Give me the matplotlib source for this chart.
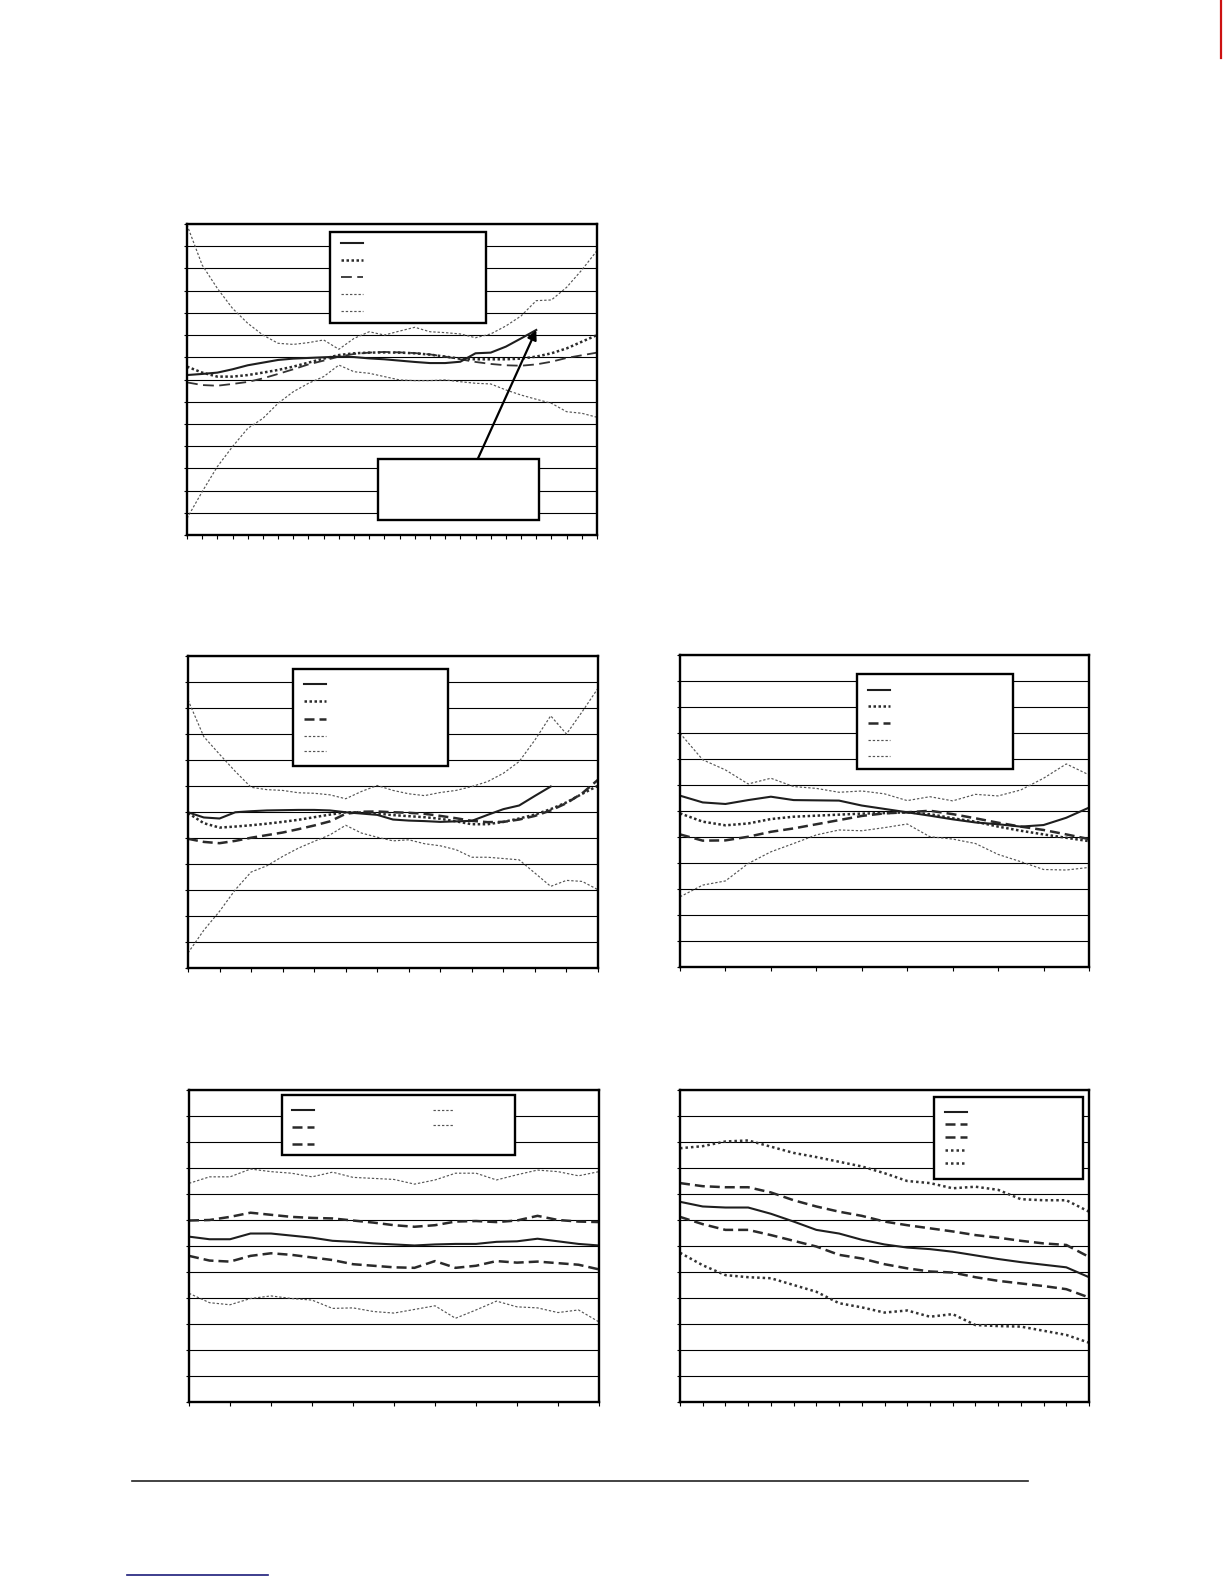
import numpy as np
import matplotlib
matplotlib.use("Agg")
import matplotlib.pyplot as plt
from matplotlib.patches import Rectangle
from matplotlib.lines import Line2D

W, H = 1224, 1584

# ---- chart 1 (28 categories) ----
c1_solid = [0.92, 0.925, 0.931, 0.946, 0.964, 0.976, 0.988, 0.994, 0.997, 1.0,
            1.003, 1.001, 0.995, 0.991, 0.985, 0.979, 0.974, 0.974, 0.98, 1.018,
            1.021, 1.048, 1.085, 1.123]
c1_dot = [0.958, 0.931, 0.913, 0.913, 0.92, 0.931, 0.943, 0.958, 0.976, 0.994,
          1.01, 1.018, 1.021, 1.022, 1.021, 1.018, 1.012, 1.003, 0.994, 0.991,
          0.991, 0.991, 0.994, 1.003, 1.018, 1.04, 1.07, 1.10]
c1_dash = [0.887, 0.875, 0.872, 0.88, 0.889, 0.905, 0.925, 0.946, 0.968, 0.985,
           1.003, 1.015, 1.021, 1.024, 1.022, 1.019, 1.013, 1.003, 0.991, 0.979,
           0.97, 0.964, 0.962, 0.968, 0.98, 0.997, 1.009, 1.021]
c1_upper = [1.596, 1.415, 1.31, 1.22, 1.153, 1.10, 1.063, 1.058, 1.066, 1.078,
            1.036, 1.085, 1.115, 1.10, 1.118, 1.135, 1.115, 1.111, 1.105, 1.088,
            1.105, 1.141, 1.186, 1.255, 1.258, 1.315, 1.393, 1.48]
c1_lower = [0.275, 0.395, 0.508, 0.598, 0.68, 0.725, 0.793, 0.845, 0.883, 0.913,
            0.965, 0.935, 0.928, 0.913, 0.898, 0.895, 0.895, 0.898, 0.89, 0.883,
            0.88, 0.853, 0.83, 0.811, 0.793, 0.755, 0.748, 0.73]

# ---- chart 2 (27 categories) ----
c2_solid = [0.999, 0.979, 0.975, 0.999, 1.003, 1.006, 1.007, 1.008, 1.008, 1.006,
            0.999, 0.994, 0.989, 0.971, 0.967, 0.965, 0.962, 0.964, 0.966, 0.989,
            1.011, 1.025, 1.062, 1.098]
c2_dot = [0.996, 0.957, 0.94, 0.944, 0.949, 0.955, 0.962, 0.97, 0.98, 0.99,
          0.999, 0.998, 0.994, 0.988, 0.984, 0.98, 0.974, 0.964, 0.953, 0.953,
          0.962, 0.975, 0.99, 1.011, 1.037, 1.07, 1.101]
c2_dash = [0.897, 0.885, 0.88, 0.889, 0.901, 0.911, 0.921, 0.934, 0.948, 0.964,
           0.993, 1.001, 1.002, 0.999, 0.997, 0.993, 0.985, 0.976, 0.966, 0.961,
           0.962, 0.971, 0.985, 1.006, 1.034, 1.072, 1.124]
c2_upper = [1.431, 1.29, 1.222, 1.156, 1.095, 1.086, 1.083, 1.074, 1.072, 1.066,
            1.051, 1.079, 1.102, 1.083, 1.07, 1.063, 1.075, 1.083, 1.098, 1.117,
            1.149, 1.194, 1.277, 1.37, 1.30, 1.386, 1.476]
c2_lower = [0.458, 0.545, 0.618, 0.701, 0.769, 0.793, 0.829, 0.861, 0.887, 0.912,
            0.949, 0.919, 0.903, 0.889, 0.893, 0.878, 0.87, 0.855, 0.826, 0.826,
            0.821, 0.816, 0.765, 0.714, 0.737, 0.733, 0.701]

# ---- chart 3 (19 categories) ----
c3_solid = [1.059, 1.033, 1.027, 1.042, 1.055, 1.042, 1.041, 1.04, 1.021, 1.008,
            0.995, 0.982, 0.968, 0.956, 0.949, 0.94, 0.946, 0.974, 1.013]
c3_dot = [0.991, 0.959, 0.945, 0.952, 0.969, 0.978, 0.982, 0.986, 0.99, 0.992,
          0.995, 0.988, 0.972, 0.959, 0.94, 0.924, 0.91, 0.897, 0.884]
c3_dash = [0.91, 0.886, 0.887, 0.901, 0.92, 0.933, 0.949, 0.965, 0.981, 0.991,
           0.995, 1.001, 0.988, 0.972, 0.955, 0.94, 0.927, 0.91, 0.892]
c3_upper = [1.299, 1.197, 1.158, 1.104, 1.126, 1.094, 1.087, 1.072, 1.077, 1.066,
            1.04, 1.055, 1.039, 1.064, 1.058, 1.081, 1.126, 1.181, 1.139]
c3_lower = [0.67, 0.715, 0.731, 0.798, 0.843, 0.875, 0.908, 0.927, 0.924, 0.936,
            0.95, 0.901, 0.892, 0.875, 0.833, 0.805, 0.775, 0.773, 0.783]

# ---- chart 4 (21 categories) ----
c4_top = [42.05, 43.3, 43.3, 44.8, 44.3, 44.0, 43.3, 44.2, 43.2, 43.0, 42.8,
          41.9, 42.7, 44.0, 44.0, 42.7, 43.7, 44.6, 44.3, 43.5, 44.3]
c4_dash_hi = [34.9, 35.0, 35.6, 36.4, 36.0, 35.6, 35.4, 35.3, 34.9, 34.5, 34.0,
              33.7, 34.0, 34.7, 34.8, 34.6, 34.9, 35.8, 35.0, 34.7, 34.6]
c4_solid = [31.8, 31.3, 31.3, 32.4, 32.4, 32.0, 31.6, 31.0, 30.8, 30.5, 30.3,
            30.1, 30.3, 30.4, 30.4, 30.8, 30.9, 31.4, 30.9, 30.4, 30.1]
c4_dash_lo = [28.1, 27.2, 27.0, 28.1, 28.6, 28.3, 27.8, 27.3, 26.5, 26.2, 25.9,
              25.8, 27.1, 25.8, 26.2, 27.1, 26.8, 27.0, 26.7, 26.4, 25.5]
c4_bottom = [20.9, 19.1, 18.7, 19.9, 20.4, 19.9, 19.6, 18.0, 18.1, 17.4, 17.1,
             17.8, 18.5, 16.1, 17.7, 19.4, 18.3, 18.1, 17.2, 17.7, 15.4]

# ---- chart 5 (19 categories) ----
c5_top = [48.8, 49.2, 50.1, 50.3, 49.1, 47.9, 47.1, 46.2, 45.3, 44.0, 42.5,
          42.1, 41.1, 41.4, 40.8, 39.0, 38.8, 38.8, 36.6]
c5_dash_hi = [42.1, 41.5, 41.3, 41.3, 40.3, 38.8, 37.6, 36.6, 35.8, 34.7, 34.0,
              33.4, 32.8, 32.1, 31.6, 31.0, 30.5, 30.2, 27.9]
c5_solid = [38.5, 37.6, 37.4, 37.4, 36.2, 34.7, 33.1, 32.4, 31.2, 30.3, 29.7,
            29.4, 28.9, 28.2, 27.5, 26.9, 26.4, 25.9, 24.0]
c5_dash_lo = [35.6, 34.2, 33.1, 33.1, 32.1, 31.0, 29.9, 28.3, 27.6, 26.5, 25.7,
              25.1, 24.9, 24.0, 23.3, 22.8, 22.3, 21.7, 20.1]
c5_bottom = [28.7, 26.3, 24.4, 24.0, 23.8, 22.5, 21.2, 19.0, 18.2, 17.2, 17.6,
             16.4, 16.9, 14.8, 14.6, 14.5, 13.7, 12.9, 11.4]

# line styles
S_SOLID = dict(color="#1e1e1e", lw=1.5, ls="-")
S_DOT = dict(color="#2a2a2a", lw=1.8, ls=(0, (1, 1)))
S_LDASH = dict(color="#333333", lw=1.3, ls=(0, (6, 3)))
S_DASH = dict(color="#2a2a2a", lw=1.8, ls=(0, (4, 2)))
S_THIN = dict(color="#555555", lw=0.85, ls=(0, (2, 1.6)))
S_DOT5 = dict(color="#333333", lw=1.8, ls=(0, (1, 1.2)))

fig = plt.figure(figsize=(W / 100, H / 100), dpi=100)


def make_axes(l, r, t, b, nx, ymin, ymax, ystep, xstep):
    ax = fig.add_axes([l / W, 1 - b / H, (r - l) / W, (b - t) / H])
    ax.set_xlim(0, nx - 1)
    ax.set_ylim(ymin, ymax)
    ax.set_yticks(np.arange(ymin, ymax + ystep / 2, ystep))
    xt = list(range(0, nx, xstep))
    if xt[-1] != nx - 1:
        xt.append(nx - 1)
    ax.set_xticks(xt)
    ax.set_xticklabels([])
    ax.set_yticklabels([])
    ax.tick_params(axis="y", direction="out", length=2.5, width=0.8)
    ax.tick_params(axis="x", direction="out", length=3.2, width=0.8)
    ax.yaxis.grid(True, color="black", lw=0.8)
    ax.set_axisbelow(True)
    for s in ax.spines.values():
        s.set_linewidth(1.7)
    return ax


def box(x0, y0, x1, y1, lw=1.7):
    r = Rectangle((x0 / W, 1 - y1 / H), (x1 - x0) / W, (y1 - y0) / H,
                  transform=fig.transFigure, facecolor="white",
                  edgecolor="black", lw=lw, zorder=5)
    fig.add_artist(r)


def sample(x0, x1, y, style):
    ln = Line2D([x0 / W, x1 / W], [1 - y / H, 1 - y / H],
                transform=fig.transFigure, zorder=6, **style)
    fig.add_artist(ln)


# chart 1
ax1 = make_axes(187, 597, 224, 535, 28, 0.2, 1.6, 0.1, 1)
x1 = np.arange(28)
ax1.plot(x1, c1_upper, **S_THIN)
ax1.plot(x1, c1_lower, **S_THIN)
ax1.plot(x1, c1_dash, **S_LDASH)
ax1.plot(x1, c1_dot, **S_DOT)
ax1.plot(x1[:len(c1_solid)], c1_solid, **S_SOLID)
box(330, 232, 486, 323)
for yy, st in zip([242.7, 260, 277.3, 294.3, 311.3],
                  [S_SOLID, S_DOT, S_LDASH, S_THIN, S_THIN]):
    sample(340.7, 362.7, yy, st)
box(377.7, 458.7, 539.3, 520)
ax1.annotate("", xy=(len(c1_solid) - 1, c1_solid[-1]), xycoords="data",
             xytext=(0.71, 0.247), textcoords="axes fraction",
             arrowprops=dict(arrowstyle="-|>", color="black", lw=1.6,
                             mutation_scale=14, shrinkA=0, shrinkB=0),
             zorder=7)

# chart 2
ax2 = make_axes(188, 598, 656, 968, 27, 0.4, 1.6, 0.1, 2)
x2 = np.arange(27)
ax2.plot(x2, c2_upper, **S_THIN)
ax2.plot(x2, c2_lower, **S_THIN)
ax2.plot(x2, c2_dash, **S_DASH)
ax2.plot(x2, c2_dot, **S_DOT)
ax2.plot(x2[:len(c2_solid)], c2_solid, **S_SOLID)
box(292.7, 669.3, 448.3, 766)
for yy, st in zip([684.3, 701.3, 718.7, 736.3, 751.3],
                  [S_SOLID, S_DOT, S_DASH, S_THIN, S_THIN]):
    sample(304, 325.7, yy, st)

# chart 3
ax3 = make_axes(680, 1089, 655, 967, 19, 0.4, 1.6, 0.1, 2)
x3 = np.arange(19)
ax3.plot(x3, c3_upper, **S_THIN)
ax3.plot(x3, c3_lower, **S_THIN)
ax3.plot(x3, c3_dash, **S_DASH)
ax3.plot(x3, c3_dot, **S_DOT)
ax3.plot(x3, c3_solid, **S_SOLID)
box(857.3, 674.3, 1013.3, 769)
for yy, st in zip([689.7, 705.7, 723.3, 739.7, 756.3],
                  [S_SOLID, S_DOT, S_DASH, S_THIN, S_THIN]):
    sample(867.7, 890, yy, st)

# chart 4
ax4 = make_axes(189, 599, 1090, 1402, 21, 0, 60, 5, 2)
x4 = np.arange(21)
ax4.plot(x4, c4_top, **S_THIN)
ax4.plot(x4, c4_bottom, **S_THIN)
ax4.plot(x4, c4_dash_hi, **S_DASH)
ax4.plot(x4, c4_dash_lo, **S_DASH)
ax4.plot(x4, c4_solid, **S_SOLID)
box(281.7, 1095, 515, 1155)
for yy, st in zip([1109.7, 1126.7, 1143.7], [S_SOLID, S_DASH, S_DASH]):
    sample(292, 314, yy, st)
for yy in [1109.7, 1125.3]:
    sample(432.7, 454.3, yy, S_THIN)

# chart 5
ax5 = make_axes(680, 1089, 1090, 1402, 19, 0, 60, 5, 1)
x5 = np.arange(19)
ax5.plot(x5, c5_top, **S_DOT5)
ax5.plot(x5, c5_bottom, **S_DOT5)
ax5.plot(x5, c5_dash_hi, **S_DASH)
ax5.plot(x5, c5_dash_lo, **S_DASH)
ax5.plot(x5, c5_solid, **S_SOLID)
box(934.3, 1097.3, 1083.3, 1179)
for yy, st in zip([1111.7, 1124.3, 1137, 1150.3, 1163],
                  [S_SOLID, S_DASH, S_DASH, S_DOT5, S_DOT5]):
    sample(945, 966.7, yy, st)

# page furniture
fig.add_artist(Line2D([132 / W, 1028 / W], [1 - 1481 / H, 1 - 1481 / H],
                      transform=fig.transFigure, color="#222222", lw=1.2))
fig.add_artist(Line2D([127 / W, 268 / W], [1 - 1575 / H, 1 - 1575 / H],
                      transform=fig.transFigure, color="#1c1c7a", lw=1.2))
fig.add_artist(Line2D([1221 / W, 1221 / W], [1.0, 1 - 58 / H],
                      transform=fig.transFigure, color="#cc1111", lw=1.6))

fig.savefig("out.png", dpi=100, facecolor="white")
